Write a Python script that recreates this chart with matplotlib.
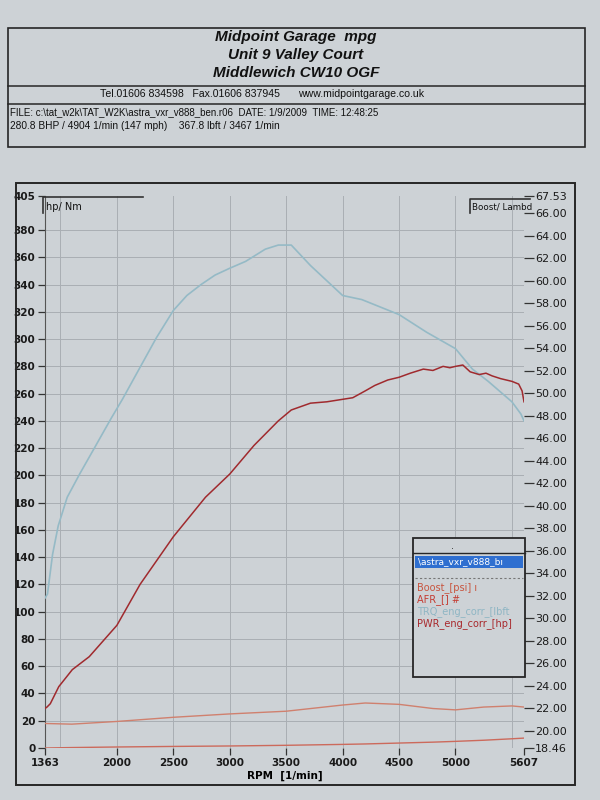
import matplotlib
matplotlib.use('Agg')
from matplotlib import pyplot as plt
from matplotlib.patches import Rectangle
from matplotlib.lines import Line2D

# --- data ---
rpm_trq = [1363, 1385, 1430, 1480, 1560, 1670, 1800, 1950, 2050, 2230, 2350, 2500, 2620,
           2745, 2870, 3000, 3140, 3315, 3430, 3545, 3715, 4000, 4170, 4500, 4745, 5000,
           5150, 5290, 5500, 5580, 5607]
trq = [110, 113, 142, 163, 184, 201, 220, 242, 256, 283, 301, 321, 332,
       340, 347, 352, 357, 366, 369, 369, 354, 332, 329, 318, 305, 293,
       278, 269, 254, 245, 240]

rpm_pwr = [1363, 1380, 1410, 1485, 1605, 1755, 2000, 2205, 2500, 2785, 3000, 3215,
           3430, 3545, 3715, 3860, 4090, 4200, 4285, 4400, 4500, 4600, 4715, 4800,
           4890, 4950, 5000, 5065, 5130, 5210, 5270, 5325, 5400, 5500, 5560, 5590, 5607]
pwr = [29, 30, 32.5, 45, 57.5, 67, 90, 120, 155, 184, 201, 222,
       240, 248, 253, 254, 257, 262, 266, 270, 272, 275, 278, 277,
       280, 279, 280, 281, 276, 274, 275, 273, 271, 269, 267, 262, 254]

rpm_low = [1363, 1600, 2000, 2500, 3000, 3500, 4000, 4200, 4500, 4800, 5000, 5250, 5500, 5607]
boost = [20.64, 20.58, 20.82, 21.19, 21.49, 21.73, 22.28, 22.46, 22.34, 21.97, 21.85, 22.10, 22.20, 22.10]
afr = [18.46, 18.50, 18.55, 18.60, 18.64, 18.70, 18.78, 18.82, 18.90, 18.98, 19.05, 19.15, 19.28, 19.34]

x_ticks = [1363, 2000, 2500, 3000, 3500, 4000, 4500, 5000, 5607]
x_grid = [1500, 2000, 2500, 3000, 3500, 4000, 4500, 5000, 5500]
left_ticks = list(range(0, 400, 20)) + [405]
right_ticks = [18.46] + list(range(20, 67, 2)) + [67.53]

legend_items = ['Boost_[psi] ı', 'AFR_[] #', 'TRQ_eng_corr_[lbft', 'PWR_eng_corr_[hp]']
legend_colors = ['#c8553f', '#c43c32', '#8fb6c4', '#a8282c']

paper = '#cdd2d6'
ink = '#262626'
hdr = 'Liberation Sans'


def P(x, y):
    return x / 600, 1 - y / 800


fig = plt.figure(figsize=(6, 8), dpi=100, facecolor=paper)

# header block
fig.add_artist(Rectangle(P(8, 147), 577 / 600, 119 / 800, transform=fig.transFigure,
                         fill=False, ec=ink, lw=1.2))
for yy in (86, 104):
    fig.add_artist(Line2D([8 / 600, 585 / 600], [1 - yy / 800] * 2, transform=fig.transFigure,
                          color=ink, lw=1.1))
for txt, yy in [('Midpoint Garage  mpg', 37), ('Unit 9 Valley Court', 55), ('Middlewich CW10 OGF', 73)]:
    fig.text(*P(296, yy), txt, ha='center', va='center', fontsize=11, fontweight='bold',
             fontstyle='italic', color='#111', family=hdr)
fig.text(*P(100, 94), 'Tel.01606 834598   Fax.01606 837945', ha='left', va='center',
         fontsize=7.6, color='#111', family=hdr)
fig.text(*P(298, 94), 'www.midpointgarage.co.uk', ha='left', va='center', fontsize=7.6,
         color='#111', family=hdr)
fig.text(*P(10, 112), r'FILE: c:\tat_w2k\TAT_W2K\astra_vxr_v888_ben.r06  DATE: 1/9/2009  TIME: 12:48:25',
         ha='left', va='center', fontsize=7, color='#111', family=hdr)
fig.text(*P(10, 126), '280.8 BHP / 4904 1/min (147 mph)    367.8 lbft / 3467 1/min',
         ha='left', va='center', fontsize=7.3, color='#111', family=hdr)

# chart frame
fig.add_artist(Rectangle(P(16, 785), 559 / 600, 602 / 800, transform=fig.transFigure,
                         fill=False, ec=ink, lw=1.4))

ax = fig.add_axes([45 / 600, 1 - 748 / 800, 479 / 600, 552 / 800])
ax.set_facecolor(paper)
ax.set_xlim(1363, 5607)
ax.set_ylim(0, 405)
for xg in x_grid:
    ax.axvline(xg, color='#a9aeb3', lw=0.7, zorder=0)
for yg in left_ticks[1:-1]:
    ax.axhline(yg, color='#a9aeb3', lw=0.7, zorder=0)

ax.plot(rpm_trq, trq, color='#95bac6', lw=1.2, zorder=3)
ax.plot(rpm_pwr, pwr, color='#a02a2e', lw=1.1, zorder=4)

for s in ['top', 'right', 'bottom']:
    ax.spines[s].set_visible(False)
ax.spines['left'].set_color('#555')
ax.set_xticks(x_ticks)
ax.set_yticks(left_ticks)
ax.tick_params(axis='both', direction='out', length=5, width=0.9, color='#333',
               labelsize=7.5, labelcolor='#1a1a1a', pad=2)
for lab in ax.get_yticklabels() + ax.get_xticklabels():
    lab.set_fontweight('bold')
ax.set_xlabel('RPM  [1/min]', fontsize=7.5, fontweight='bold', labelpad=2)

ax2 = ax.twinx()
ax2.set_ylim(18.46, 67.53)
ax2.plot(rpm_low, boost, color='#d0806e', lw=1.0)
ax2.plot(rpm_low, afr, color='#cc6a5c', lw=1.0)
ax2.set_yticks(right_ticks)
ax2.set_yticklabels(['%.2f' % v for v in right_ticks])
for s in ['top', 'left', 'bottom', 'right']:
    ax2.spines[s].set_visible(False)
ax2.tick_params(axis='y', direction='out', length=7, width=0.9, color='#333',
                labelsize=8, labelcolor='#1a1a1a', pad=1)

# axis caption brackets
fig.add_artist(Line2D([43 / 600, 43 / 600, 143 / 600], [1 - 213 / 800, 1 - 197 / 800, 1 - 197 / 800],
                      transform=fig.transFigure, color='#333', lw=1.2))
fig.text(*P(46, 207), 'hp/ Nm', ha='left', va='center', fontsize=7, color='#111')
fig.add_artist(Line2D([470 / 600, 470 / 600, 530 / 600], [1 - 213 / 800, 1 - 199 / 800, 1 - 199 / 800],
                      transform=fig.transFigure, color='#333', lw=1.2))
fig.text(*P(472, 207), 'Boost/ Lambd', ha='left', va='center', fontsize=6.3, color='#111')

# legend panel
fig.add_artist(Rectangle(P(413, 677), 112 / 600, 139 / 800, transform=fig.transFigure,
                         fc=paper, ec=ink, lw=1.3, zorder=10))
fig.add_artist(Line2D([413 / 600, 525 / 600], [1 - 553 / 800] * 2, transform=fig.transFigure,
                      color=ink, lw=1.0, zorder=11))
fig.text(*P(452, 546), '.', ha='center', va='center', fontsize=7, color='#333', zorder=11)
fig.add_artist(Rectangle(P(415, 568), 108 / 600, 12 / 800, transform=fig.transFigure,
                         fc='#2f6fd0', ec='none', zorder=11))
fig.text(*P(418, 562), r'\astra_vxr_v888_bı', ha='left', va='center', fontsize=6.5,
         color='white', zorder=12)
fig.add_artist(Line2D([415 / 600, 523 / 600], [1 - 578 / 800] * 2, transform=fig.transFigure,
                      color='#777', lw=0.8, ls=(0, (2, 2)), zorder=11))
for i, (name, col) in enumerate(zip(legend_items, legend_colors)):
    fig.text(*P(417, 588 + i * 12), name, ha='left', va='center', fontsize=7, color=col, zorder=12)

fig.savefig('out.png', dpi=100, facecolor=paper)
